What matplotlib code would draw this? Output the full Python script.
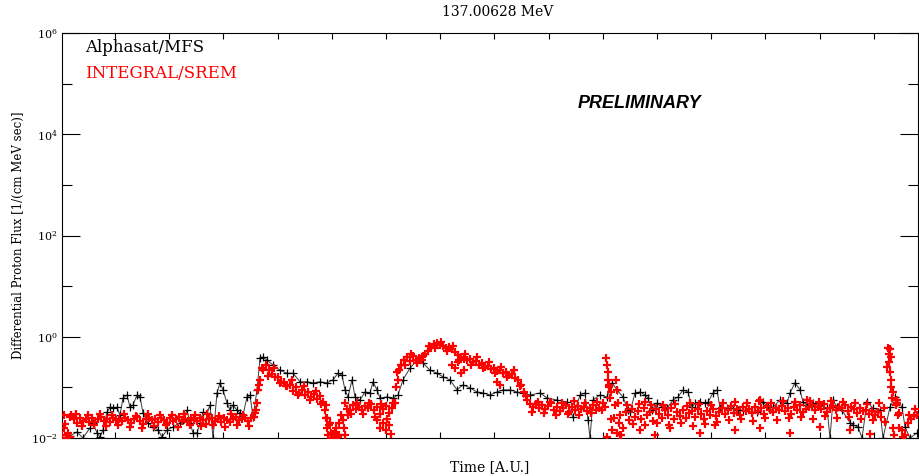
import matplotlib
matplotlib.use("Agg")
import matplotlib.pyplot as plt
import numpy as np
from matplotlib.ticker import FixedLocator, NullFormatter

plt.rcParams["font.family"] = ["DejaVu Serif"]
plt.rcParams["mathtext.fontset"] = "dejavuserif"

# Alphasat/MFS: time [A.U.] and log10 of flux
mfs_time = [0, 8, 15, 21, 28, 31, 35, 38, 41, 45, 48, 51, 55, 58, 61, 65, 68, 71, 75, 78,
            81, 86, 91, 96, 100, 105, 111, 118, 121, 125, 128, 131, 135, 138, 141, 145, 148, 151, 155, 158,
            161, 165, 168, 171, 175, 178, 181, 185, 188, 191, 195, 198, 201, 205, 211, 218, 225, 231, 238, 245,
            251, 258, 265, 271, 276, 280, 283, 286, 290, 293, 298, 303, 308, 311, 315, 318, 325, 331, 336, 341,
            348, 355, 361, 368, 375, 381, 388, 395, 401, 408, 415, 421, 428, 435, 441, 448, 455, 461, 468, 478,
            485, 495, 505, 511, 518, 523, 526, 528, 531, 538, 545, 550, 555, 561, 566, 568, 573, 578, 583, 586,
            590, 595, 600, 605, 611, 616, 621, 626, 630, 633, 638, 643, 646, 651, 655, 658, 665, 671, 676, 681,
            690, 695, 701, 706, 711, 718, 725, 728, 733, 738, 741, 745, 751, 758, 765, 768, 771, 775, 780, 788,
            791, 796, 800, 805, 811, 818, 821, 828, 833, 840, 843, 848, 855]
mfs_logflux = [-2.00, -1.96, -1.88, -2.00, -1.80, -1.70, -1.90, -1.98, -1.84, -1.49, -1.39, -1.41, -1.39, -1.55, -1.21, -1.15, -1.39, -1.35, -1.15, -1.19,
               -1.51, -1.70, -1.78, -1.84, -1.98, -1.84, -1.78, -1.70, -1.64, -1.45, -1.70, -1.90, -1.90, -1.70, -1.49, -1.51, -1.35, -2.00, -1.11, -0.91,
               -1.05, -1.31, -1.45, -1.35, -1.45, -1.51, -1.55, -1.19, -1.15, -1.59, -1.05, -0.42, -0.40, -0.46, -0.56, -0.66, -0.72, -0.72, -0.89, -0.89,
               -0.91, -0.89, -0.91, -0.85, -0.72, -0.76, -1.05, -1.19, -0.85, -1.19, -1.25, -1.09, -1.11, -0.89, -1.05, -1.21, -1.19, -1.21, -1.15, -0.85,
               -0.62, -0.46, -0.52, -0.66, -0.72, -0.79, -0.85, -1.05, -0.95, -1.01, -1.09, -1.11, -1.15, -1.09, -1.05, -1.05, -1.09, -1.11, -1.15, -1.11,
               -1.21, -1.25, -1.29, -1.59, -1.15, -1.11, -1.64, -2.00, -1.25, -1.15, -1.19, -0.91, -1.05, -1.19, -1.45, -1.49, -1.11, -1.09, -1.15, -1.21,
               -1.45, -1.31, -1.39, -1.41, -1.25, -1.19, -1.05, -1.09, -1.39, -1.31, -1.29, -1.31, -1.29, -1.11, -1.05, -1.41, -1.41, -1.41, -1.45, -1.45,
               -1.49, -1.49, -1.29, -1.39, -1.39, -1.25, -1.31, -1.11, -0.91, -1.05, -1.29, -1.35, -1.31, -1.35, -1.41, -2.00, -1.25, -1.39, -1.45, -1.70,
               -1.74, -1.78, -2.00, -1.29, -1.41, -1.45, -2.00, -1.39, -1.19, -1.39, -1.78, -2.00, -1.90]

# INTEGRAL/SREM: regular samples (every 3 time units) and log10 of flux
srem_step = 3
srem_logflux = [
    -1.95, -1.72, -1.90, -1.55, -1.62, -1.70, -1.60, -1.67, -1.62, -1.69,
    -1.61, -1.68, -1.63, -1.58, -1.66, -1.62, -1.69, -1.60, -1.65, -1.62,
    -1.67, -1.61, -1.64, -1.70, -1.62, -1.59, -1.66, -1.72, -1.63, -1.60,
    -1.65, -1.62, -1.68, -1.60, -1.64, -1.70, -1.61, -1.66, -1.63, -1.59,
    -1.66, -1.62, -1.69, -1.61, -1.64, -1.67, -1.60, -1.65, -1.72, -1.63,
    -1.61, -1.66, -1.62, -1.68, -1.60, -1.64, -1.69, -1.62, -1.58, -1.65,
    -1.63, -1.60, -1.66, -1.61, -1.58, -1.30, -0.85, -0.66, -0.56, -0.66,
    -0.74, -0.80, -0.80, -0.90, -0.89, -0.98, -0.95, -1.07, -1.00, -1.12,
    -1.06, -1.15, -1.10, -1.19, -1.14, -1.22, -1.18, -1.28, -1.35, -1.75,
    -1.95, -1.88, -1.98, -1.55, -1.80, -1.42, -1.45, -1.35, -1.42, -1.38,
    -1.44, -1.36, -1.40, -1.33, -1.45, -1.38, -1.52, -1.42, -1.37, -1.50,
    -1.40, -1.30, -0.85, -0.55, -0.45, -0.40, -0.48, -0.38, -0.45, -0.42,
    -0.46, -0.35, -0.28, -0.22, -0.15, -0.12, -0.16, -0.18, -0.22, -0.20,
    -0.24, -0.30, -0.36, -0.40, -0.44, -0.46, -0.44, -0.50, -0.48, -0.55,
    -0.52, -0.60, -0.57, -0.64, -0.62, -0.68, -0.66, -0.72, -0.70, -0.76,
    -0.74, -0.82, -0.86, -0.95, -1.10, -1.25, -1.32, -1.38, -1.33, -1.40,
    -1.35, -1.42, -1.36, -1.30, -1.44, -1.38, -1.46, -1.40, -1.34, -1.48,
    -1.39, -1.45, -1.36, -1.42, -1.38, -1.47, -1.40, -1.35, -1.44, -1.41,
    -1.45, -1.38, -0.70, -1.10, -1.60, -1.90, -1.55, -1.80, -1.48, -1.65,
    -1.42, -1.58, -1.46, -1.62, -1.40, -1.55, -1.48, -1.66, -1.43, -1.52,
    -1.60, -1.45, -1.54, -1.41, -1.63, -1.49, -1.56, -1.44, -1.61, -1.50,
    -1.46, -1.58, -1.43, -1.52, -1.62, -1.47, -1.55, -1.42, -1.57, -1.49,
    -1.40, -1.52, -1.44, -1.36, -1.50, -1.42, -1.55, -1.38, -1.47, -1.43,
    -1.50, -1.39, -1.46, -1.41, -1.53, -1.37, -1.45, -1.49, -1.40, -1.44,
    -1.36, -1.47, -1.41, -1.52, -1.38, -1.44, -1.35, -1.48, -1.42, -1.39,
    -1.34, -1.45, -1.38, -1.42, -1.33, -1.48, -1.40, -1.36, -1.44, -1.39,
    -1.41, -1.35, -1.46, -1.38, -1.43, -1.50, -1.40, -1.47, -1.44, -1.52,
    -1.46, -1.55, -1.48, -1.58, -1.40, -0.60, -0.25, -1.10, -1.35, -1.50,
    -1.85, -1.95, -1.70, -1.62, -1.56, -1.55]

# INTEGRAL/SREM: second set of samples (every 6 time units, starting at 1.5)
srem_b_start = 1.5
srem_b_step = 6
srem_b_logflux = [
    -1.55, -1.98, -1.52, -1.76, -1.54, -1.74, -1.53, -1.77, -1.55, -1.75,
    -1.53, -1.78, -1.56, -1.80, -1.52, -1.76, -1.55, -1.74, -1.54, -1.79,
    -1.52, -1.75, -1.55, -1.77, -1.53, -1.74, -1.56, -1.78, -1.52, -1.75,
    -1.54, -1.76, -1.50, -0.62, -0.78, -0.62, -0.92, -0.98, -0.86, -1.15,
    -0.98, -1.25, -1.08, -1.32, -1.60, -1.92, -1.70, -1.30, -1.52, -1.30,
    -1.52, -1.30, -1.58, -1.32, -1.62, -1.30, -0.65, -0.55, -0.35, -0.52,
    -0.38, -0.18, -0.22, -0.10, -0.28, -0.18, -0.46, -0.34, -0.55, -0.40,
    -0.62, -0.50, -0.72, -0.60, -0.80, -0.66, -0.98, -1.18, -1.48, -1.28,
    -1.50, -1.28, -1.55, -1.30, -1.52, -1.27, -1.54, -1.30, -1.51, -1.29,
    -1.30, -0.95, -1.35, -1.95, -1.35, -1.72, -1.33, -1.75, -1.35, -1.70,
    -1.34, -1.74, -1.32, -1.70, -1.36, -1.76, -1.33, -1.72, -1.35, -1.68,
    -1.30, -1.64, -1.28, -1.62, -1.31, -1.66, -1.27, -1.60, -1.30, -1.65,
    -1.26, -1.60, -1.29, -1.58, -1.25, -1.62, -1.28, -1.57, -1.27, -1.60,
    -1.29, -1.58, -1.30, -1.62, -1.32, -1.65, -1.30, -1.68, -0.40, -1.30,
    -1.98, -1.55, -1.42]

# INTEGRAL/SREM extra samples (spikes and scatter)
srem_extra_time = [2, 4, 8, 194, 196, 197,
                   263, 264, 265, 266, 268, 269, 271, 274, 277, 281, 283, 286,
                   315, 318, 321, 324, 327, 329, 334, 335,
                   390, 393, 396, 399, 402, 435, 438,
                   544, 545, 546, 547, 548, 549, 550, 545, 554, 555, 556, 557, 558,
                   578, 593, 608, 638, 653, 673, 698, 728, 758, 788, 808, 583, 628, 698, 748,
                   826, 827, 827, 828, 829, 829, 830, 831, 832, 835, 836, 837]
srem_extra_logflux = [-1.80, -2.00, -1.58, -1.45, -1.05, -0.95,
                      -1.45, -1.60, -1.80, -1.95, -1.70, -1.90, -2.00, -1.80, -1.95, -1.65, -1.95, -1.55,
                      -1.65, -1.80, -1.70, -1.85, -1.75, -1.92, -1.00, -0.70,
                      -0.55, -0.62, -0.50, -0.72, -0.65, -0.90, -0.95,
                      -0.42, -0.55, -0.85, -1.00, -1.20, -1.62, -1.85, -1.98, -0.85, -1.05, -1.30, -1.70, -1.95,
                      -1.85, -1.95, -1.80, -1.90, -1.75, -1.85, -1.80, -1.90, -1.78, -1.85, -1.92, -1.28, -1.30, -1.25, -1.27,
                      -0.22, -0.35, -0.50, -0.70, -0.85, -1.00, -1.20, -1.80, -1.95, -1.25, -1.55, -1.80]

# y axis ticks
major_exp = [-2, 0, 2, 4, 6]
minor_exp = [-1, 1, 3, 5]

srem_time = np.arange(len(srem_logflux)) * srem_step
srem_b_time = srem_b_start + np.arange(len(srem_b_logflux)) * srem_b_step

fig = plt.figure(figsize=(9.19, 4.76), dpi=100)
ax = fig.add_axes([62 / 919, 38 / 476, 856 / 919, 405 / 476])

ax.plot(mfs_time, 10.0 ** np.array(mfs_logflux), color="#3a3a3a", lw=0.7,
        marker="+", ms=5.5, mew=0.9, mec="black", zorder=2)
red_style = dict(ls="none", marker="+", ms=6, mew=1.6, color="#ff0000", zorder=3)
ax.plot(srem_time, 10.0 ** np.array(srem_logflux), **red_style)
ax.plot(srem_b_time, 10.0 ** np.array(srem_b_logflux), **red_style)
ax.plot(srem_extra_time, 10.0 ** np.array(srem_extra_logflux), **red_style)

ax.set_yscale("log")
ax.set_ylim(1e-2, 1e6)
ax.set_xlim(0, 856)

ax.yaxis.set_major_locator(FixedLocator([10.0 ** e for e in major_exp]))
ax.yaxis.set_minor_locator(FixedLocator([10.0 ** e for e in minor_exp]))
ax.set_yticklabels([r"$\mathregular{10^{%d}}$" % e for e in major_exp], fontsize=8)
ax.yaxis.set_minor_formatter(NullFormatter())

ax.set_xticks(np.arange(53, 856, 54.2))
ax.set_xticklabels([])

ax.tick_params(axis="y", which="major", direction="in", length=13, width=0.8,
               left=True, right=True, pad=3)
ax.tick_params(axis="y", which="minor", direction="in", length=7, width=0.8,
               left=True, right=True)
ax.tick_params(axis="x", which="both", direction="in", length=4.5, width=0.8,
               top=True, bottom=True)
for s in ax.spines.values():
    s.set_linewidth(0.8)

fig.text(498 / 919, 1 - 12 / 476, "137.00628 MeV", ha="center", va="center", fontsize=10)
fig.text(490 / 919, 1 - 467 / 476, "Time [A.U.]", ha="center", va="center", fontsize=10)
fig.text(18 / 919, 1 - 235 / 476, "Differential Proton Flux [1/(cm MeV sec)]",
         rotation=90, ha="center", va="center", fontsize=8.5)
fig.text(85 / 919, 1 - 48 / 476, "Alphasat/MFS", ha="left", va="center", fontsize=12,
         color="black")
fig.text(85 / 919, 1 - 73 / 476, "INTEGRAL/SREM", ha="left", va="center", fontsize=12,
         color="#ff0000")
fig.text(640 / 919, 1 - 103 / 476, "PRELIMINARY", ha="center", va="center", fontsize=13,
         fontweight="bold", fontstyle="italic", family="Liberation Sans")

fig.savefig("out.png", dpi=100)
